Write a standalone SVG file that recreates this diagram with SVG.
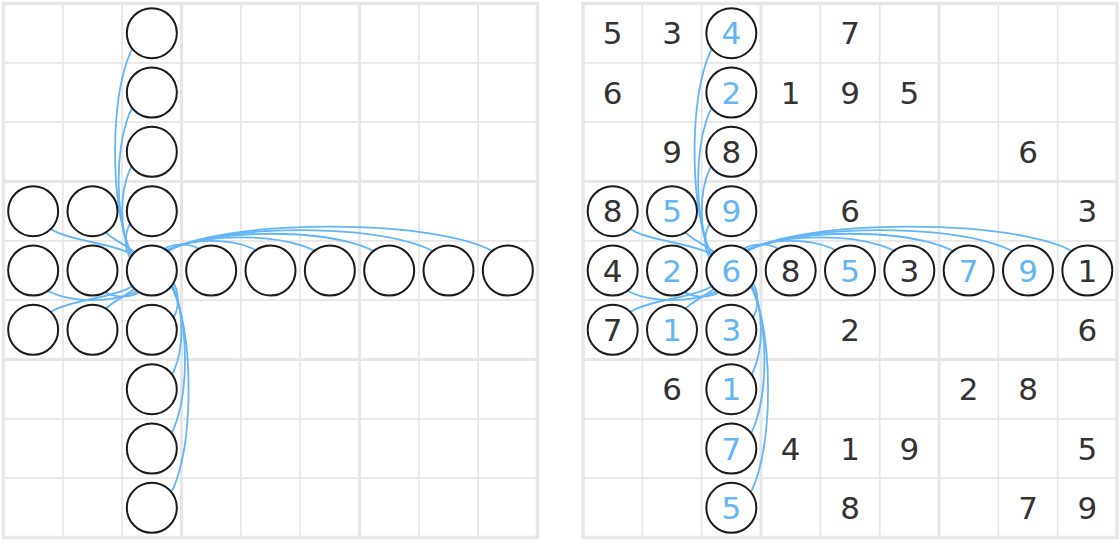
<svg xmlns="http://www.w3.org/2000/svg" xmlns:xlink="http://www.w3.org/1999/xlink" width="1120" height="544" viewBox="0 0 1120 544">
<style>
.thin{fill:none;stroke:#e6e6e6;stroke-width:1.8}
.thick{fill:none;stroke:#e6e6e6;stroke-width:3}
.border{fill:none;stroke:#e6e6e6;stroke-width:3.5}
.link{fill:none;stroke:#64b5f6;stroke-width:1.8}
.node circle{fill:#fff;stroke:#1a1a1a;stroke-width:2}
text{font-family:"DejaVu Sans","Liberation Sans",sans-serif;font-size:31px;text-anchor:middle}
.g{fill:#333}
.b{fill:#64b5f6}
</style>
<defs>
<g id="grid">
<path class="thin" d="M59.33 0V534M118.67 0V534M237.33 0V534M296.67 0V534M415.33 0V534M474.67 0V534M0 59.33H534M0 118.67H534M0 237.33H534M0 296.67H534M0 415.33H534M0 474.67H534"/>
<path class="thick" d="M178 0V534M356 0V534M0 178H534M0 356H534"/>
<rect class="border" x="0" y="0" width="534" height="534"/>
</g>
<g id="links">
<path class="link" d="M151.83 270.5C151.83 235.75 211.17 235.75 211.17 270.5"/>
<path class="link" d="M151.83 270.5C151.83 231.01 270.5 231.01 270.5 270.5"/>
<path class="link" d="M151.83 270.5C151.83 226.26 329.83 226.26 329.83 270.5"/>
<path class="link" d="M151.83 270.5C151.83 221.51 389.17 221.51 389.17 270.5"/>
<path class="link" d="M151.83 270.5C151.83 216.77 448.5 216.77 448.5 270.5"/>
<path class="link" d="M151.83 270.5C151.83 212.02 507.83 212.02 507.83 270.5"/>
<path class="link" d="M151.83 270.5C151.83 305.25 92.5 305.25 92.5 270.5"/>
<path class="link" d="M151.83 270.5C151.83 309.99 33.17 309.99 33.17 270.5"/>
<path class="link" d="M151.83 270.5C117.08 270.5 117.08 211.17 151.83 211.17"/>
<path class="link" d="M151.83 270.5C112.34 270.5 112.34 151.83 151.83 151.83"/>
<path class="link" d="M151.83 270.5C107.59 270.5 107.59 92.5 151.83 92.5"/>
<path class="link" d="M151.83 270.5C102.84 270.5 102.84 33.17 151.83 33.17"/>
<path class="link" d="M151.83 270.5C186.58 270.5 186.58 329.83 151.83 329.83"/>
<path class="link" d="M151.83 270.5C191.32 270.5 191.32 389.17 151.83 389.17"/>
<path class="link" d="M151.83 270.5C196.07 270.5 196.07 448.5 151.83 448.5"/>
<path class="link" d="M151.83 270.5C200.82 270.5 200.82 507.83 151.83 507.83"/>
<path class="link" d="M151.83 270.5C123.83 232.5 53.17 251.17 33.17 211.17"/>
<path class="link" d="M151.83 270.5C129.83 238.5 104.5 245.17 92.5 211.17"/>
<path class="link" d="M151.83 270.5C123.83 308.5 53.17 289.83 33.17 329.83"/>
<path class="link" d="M151.83 270.5C129.83 302.5 104.5 295.83 92.5 329.83"/>
</g>
</defs>
<g id="grid-left"><use xlink:href="#grid" href="#grid" transform="translate(3.5,3.5)"/></g>
<g id="grid-right"><use xlink:href="#grid" href="#grid" transform="translate(583,3.5)"/></g>
<g id="connectors">
<use xlink:href="#links" href="#links"/>
<use xlink:href="#links" href="#links" transform="translate(579.5,0)"/>
</g>
<g id="left-nodes">
<g id="L-r4c0" class="node"><circle cx="33.17" cy="270.5" r="25"/></g>
<g id="L-r4c1" class="node"><circle cx="92.5" cy="270.5" r="25"/></g>
<g id="L-r4c2" class="node"><circle cx="151.83" cy="270.5" r="25"/></g>
<g id="L-r4c3" class="node"><circle cx="211.17" cy="270.5" r="25"/></g>
<g id="L-r4c4" class="node"><circle cx="270.5" cy="270.5" r="25"/></g>
<g id="L-r4c5" class="node"><circle cx="329.83" cy="270.5" r="25"/></g>
<g id="L-r4c6" class="node"><circle cx="389.17" cy="270.5" r="25"/></g>
<g id="L-r4c7" class="node"><circle cx="448.5" cy="270.5" r="25"/></g>
<g id="L-r4c8" class="node"><circle cx="507.83" cy="270.5" r="25"/></g>
<g id="L-r0c2" class="node"><circle cx="151.83" cy="33.17" r="25"/></g>
<g id="L-r1c2" class="node"><circle cx="151.83" cy="92.5" r="25"/></g>
<g id="L-r2c2" class="node"><circle cx="151.83" cy="151.83" r="25"/></g>
<g id="L-r3c2" class="node"><circle cx="151.83" cy="211.17" r="25"/></g>
<g id="L-r5c2" class="node"><circle cx="151.83" cy="329.83" r="25"/></g>
<g id="L-r6c2" class="node"><circle cx="151.83" cy="389.17" r="25"/></g>
<g id="L-r7c2" class="node"><circle cx="151.83" cy="448.5" r="25"/></g>
<g id="L-r8c2" class="node"><circle cx="151.83" cy="507.83" r="25"/></g>
<g id="L-r3c0" class="node"><circle cx="33.17" cy="211.17" r="25"/></g>
<g id="L-r3c1" class="node"><circle cx="92.5" cy="211.17" r="25"/></g>
<g id="L-r5c0" class="node"><circle cx="33.17" cy="329.83" r="25"/></g>
<g id="L-r5c1" class="node"><circle cx="92.5" cy="329.83" r="25"/></g>
</g>
<g id="right-nodes">
<g id="R-r4c0" class="node"><circle cx="612.67" cy="270.5" r="25"/><text class="g" x="612.67" y="281.5">4</text></g>
<g id="R-r4c1" class="node"><circle cx="672" cy="270.5" r="25"/><text class="b" x="672" y="281.5">2</text></g>
<g id="R-r4c2" class="node"><circle cx="731.33" cy="270.5" r="25"/><text class="b" x="731.33" y="281.5">6</text></g>
<g id="R-r4c3" class="node"><circle cx="790.67" cy="270.5" r="25"/><text class="g" x="790.67" y="281.5">8</text></g>
<g id="R-r4c4" class="node"><circle cx="850" cy="270.5" r="25"/><text class="b" x="850" y="281.5">5</text></g>
<g id="R-r4c5" class="node"><circle cx="909.33" cy="270.5" r="25"/><text class="g" x="909.33" y="281.5">3</text></g>
<g id="R-r4c6" class="node"><circle cx="968.67" cy="270.5" r="25"/><text class="b" x="968.67" y="281.5">7</text></g>
<g id="R-r4c7" class="node"><circle cx="1028" cy="270.5" r="25"/><text class="b" x="1028" y="281.5">9</text></g>
<g id="R-r4c8" class="node"><circle cx="1087.33" cy="270.5" r="25"/><text class="g" x="1087.33" y="281.5">1</text></g>
<g id="R-r0c2" class="node"><circle cx="731.33" cy="33.17" r="25"/><text class="b" x="731.33" y="44.17">4</text></g>
<g id="R-r1c2" class="node"><circle cx="731.33" cy="92.5" r="25"/><text class="b" x="731.33" y="103.5">2</text></g>
<g id="R-r2c2" class="node"><circle cx="731.33" cy="151.83" r="25"/><text class="g" x="731.33" y="162.83">8</text></g>
<g id="R-r3c2" class="node"><circle cx="731.33" cy="211.17" r="25"/><text class="b" x="731.33" y="222.17">9</text></g>
<g id="R-r5c2" class="node"><circle cx="731.33" cy="329.83" r="25"/><text class="b" x="731.33" y="340.83">3</text></g>
<g id="R-r6c2" class="node"><circle cx="731.33" cy="389.17" r="25"/><text class="b" x="731.33" y="400.17">1</text></g>
<g id="R-r7c2" class="node"><circle cx="731.33" cy="448.5" r="25"/><text class="b" x="731.33" y="459.5">7</text></g>
<g id="R-r8c2" class="node"><circle cx="731.33" cy="507.83" r="25"/><text class="b" x="731.33" y="518.83">5</text></g>
<g id="R-r3c0" class="node"><circle cx="612.67" cy="211.17" r="25"/><text class="g" x="612.67" y="222.17">8</text></g>
<g id="R-r3c1" class="node"><circle cx="672" cy="211.17" r="25"/><text class="b" x="672" y="222.17">5</text></g>
<g id="R-r5c0" class="node"><circle cx="612.67" cy="329.83" r="25"/><text class="g" x="612.67" y="340.83">7</text></g>
<g id="R-r5c1" class="node"><circle cx="672" cy="329.83" r="25"/><text class="b" x="672" y="340.83">1</text></g>
</g>
<g id="given-digits" class="g">
<text x="612.67" y="44.17">5</text><text x="672" y="44.17">3</text><text x="850" y="44.17">7</text>
<text x="612.67" y="103.5">6</text><text x="790.67" y="103.5">1</text><text x="850" y="103.5">9</text><text x="909.33" y="103.5">5</text>
<text x="672" y="162.83">9</text><text x="1028" y="162.83">6</text>
<text x="850" y="222.17">6</text><text x="1087.33" y="222.17">3</text>
<text x="850" y="340.83">2</text><text x="1087.33" y="340.83">6</text>
<text x="672" y="400.17">6</text><text x="968.67" y="400.17">2</text><text x="1028" y="400.17">8</text>
<text x="790.67" y="459.5">4</text><text x="850" y="459.5">1</text><text x="909.33" y="459.5">9</text><text x="1087.33" y="459.5">5</text>
<text x="850" y="518.83">8</text><text x="1028" y="518.83">7</text><text x="1087.33" y="518.83">9</text>
</g>
</svg>
